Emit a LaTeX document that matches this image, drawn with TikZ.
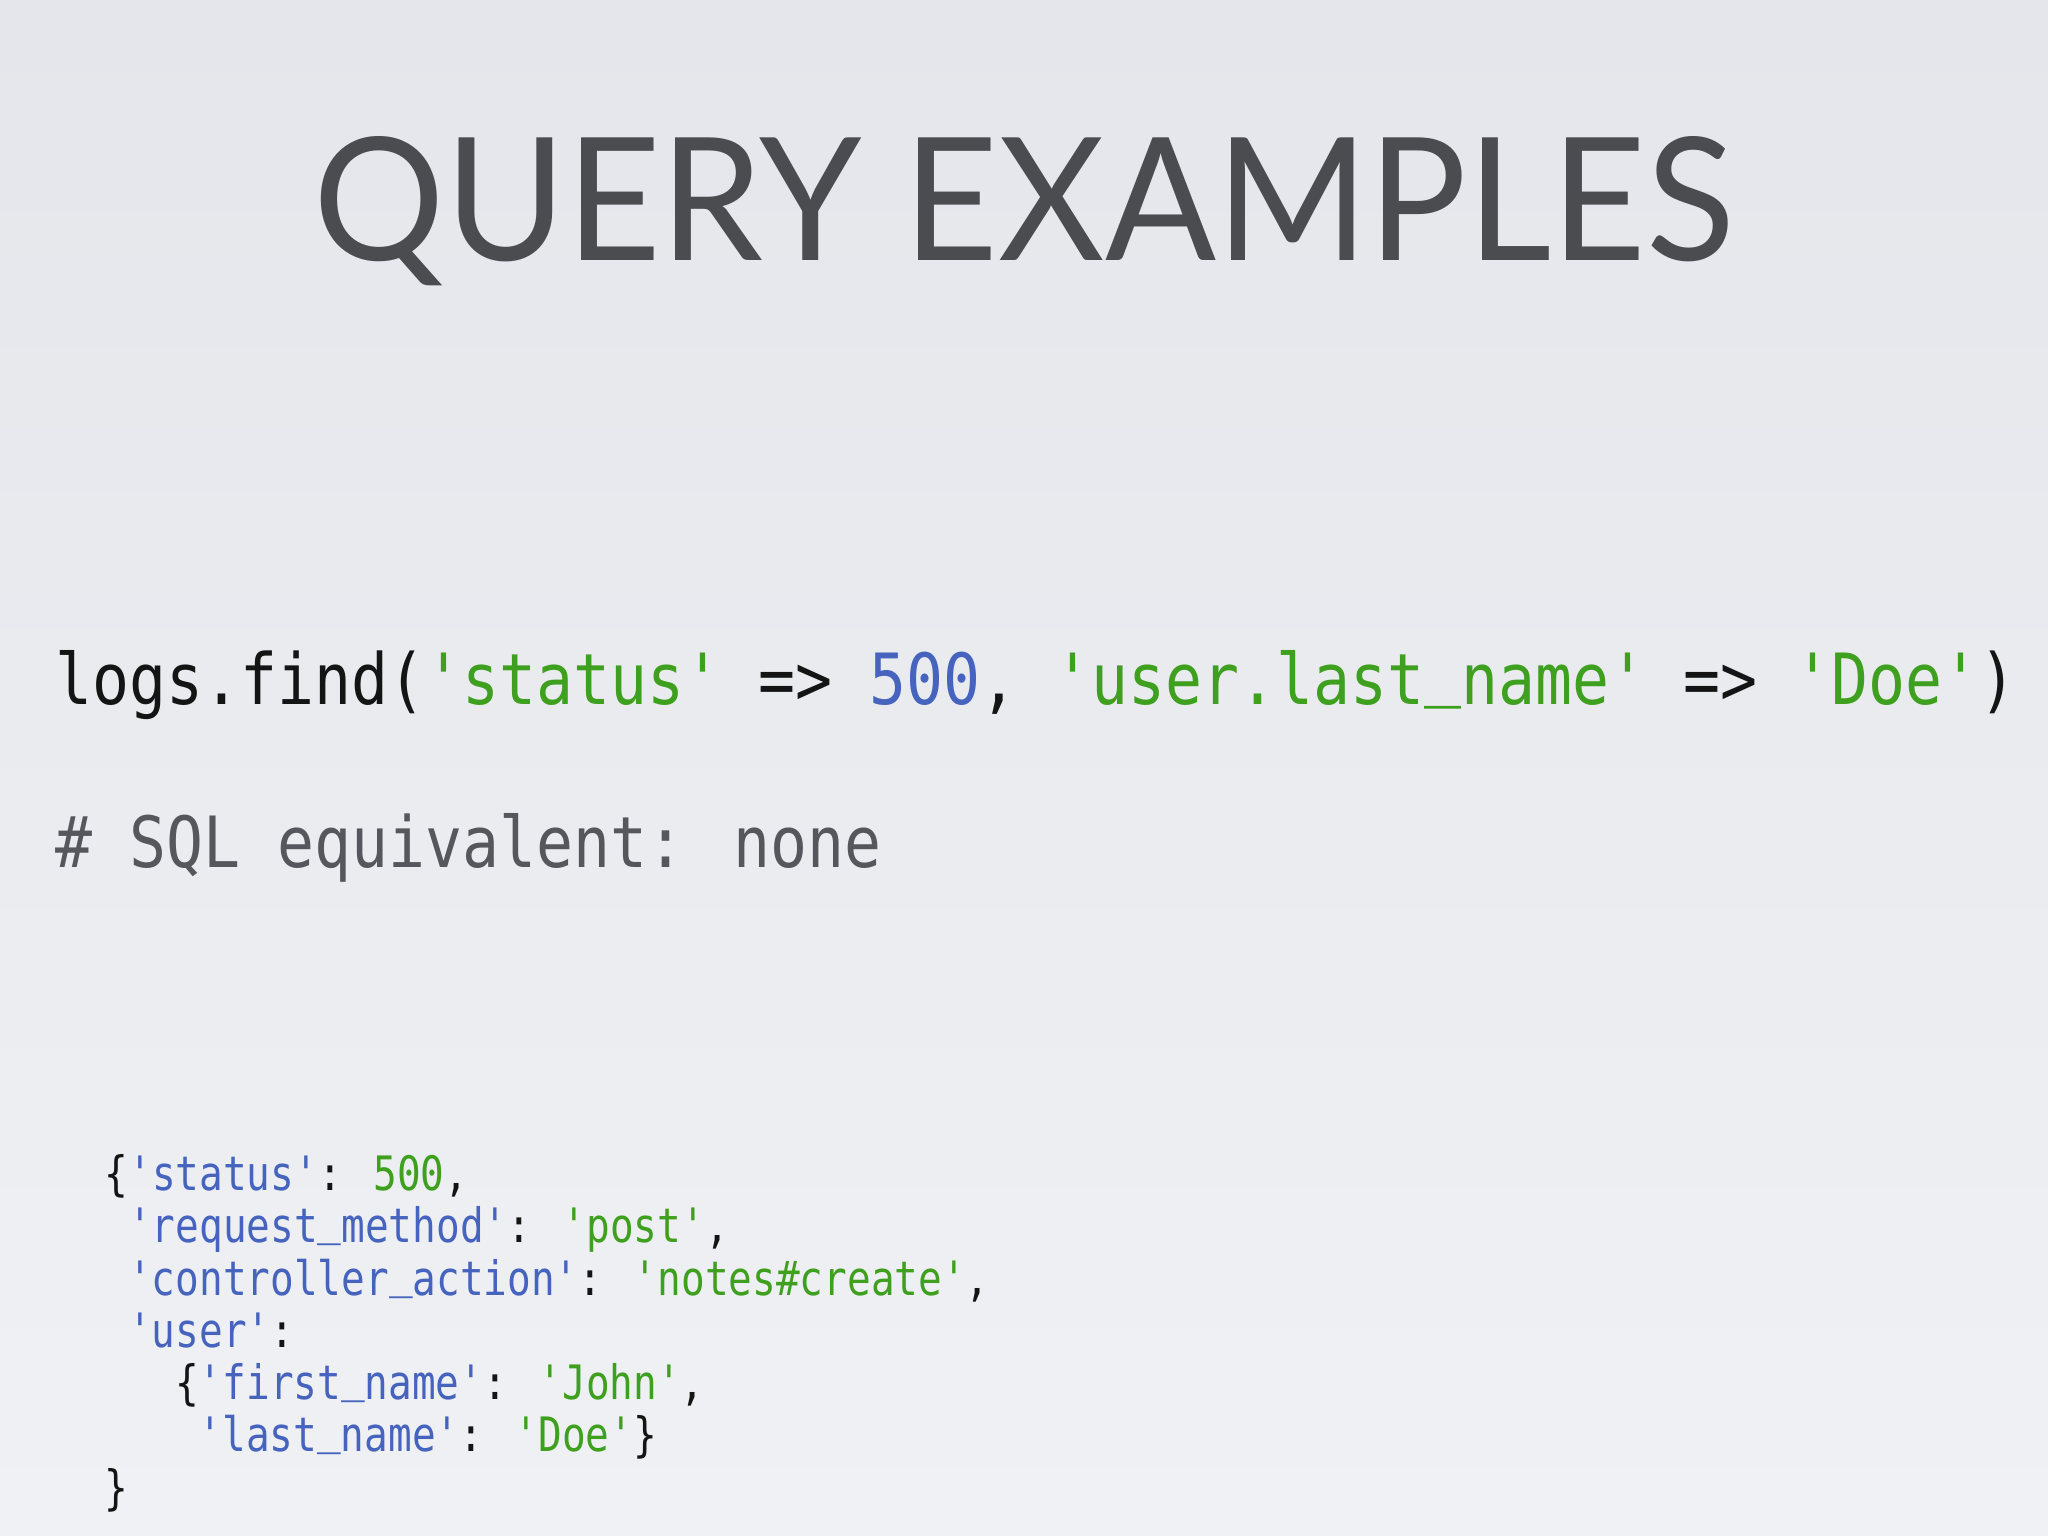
\documentclass[tikz,border=0pt]{standalone}
\usepackage{fontspec}
\usepackage{graphicx}
\newfontfamily\titlefont{Lato}
\newfontfamily\mainmono[FakeStretch=0.87]{DejaVu Sans Mono}
\newfontfamily\jsonmono[FakeStretch=0.83]{DejaVu Sans Mono}
\definecolor{bgtop}{RGB}{228,230,235}
\definecolor{bgbot}{RGB}{240,241,244}
\definecolor{titlec}{RGB}{74,76,80}
\definecolor{codeg}{RGB}{62,160,30}
\definecolor{codeb}{RGB}{70,100,190}
\definecolor{cmt}{RGB}{85,87,92}
\definecolor{blk}{RGB}{20,20,20}
\tikzset{
  mainline/.style={anchor=base west,inner sep=0pt,font=\mainmono\fontsize{20.1}{20.1}\selectfont,text=blk},
  jsonline/.style={anchor=base west,inner sep=0pt,font=\jsonmono\fontsize{13.5}{13.5}\selectfont,text=blk},
}
\newcommand{\G}[1]{\textcolor{codeg}{#1}}
\newcommand{\B}[1]{\textcolor{codeb}{#1}}
\newcommand{\us}{\raisebox{0.18em}{\_}}
\begin{document}
\begin{tikzpicture}[x=1cm,y=1cm]
\shade[top color=bgtop,bottom color=bgbot] (0,0) rectangle (20.48,15.36);
\useasboundingbox (0,0) rectangle (20.48,15.36);
\node[anchor=base west,inner sep=0pt,text=titlec] (title) at (3.13,12.75)
  {\resizebox{14.21cm}{1.24cm}{\titlefont QUERY EXAMPLES}};
\node[mainline] (q) at (0.55,8.31) {logs.find(\G{'status'} => \B{500}, \G{'user.last\us name'} => \G{'Doe'})};
\node[mainline,text=cmt] (c) at (0.55,6.68) {\# SQL equivalent: none};
\node[jsonline] (j1) at (1.04,3.45) {\{\B{'status'}: \G{500},};
\node[jsonline] (j2) at (1.275,2.93) {\B{'request\us method'}: \G{'post'},};
\node[jsonline] (j3) at (1.275,2.40) {\B{'controller\us action'}: \G{'notes\#create'},};
\node[jsonline] (j4) at (1.275,1.88) {\B{'user'}:};
\node[jsonline] (j5) at (1.745,1.36) {\{\B{'first\us name'}: \G{'John'},};
\node[jsonline] (j6) at (1.98,0.84) {\B{'last\us name'}: \G{'Doe'}\}};
\node[jsonline] (j7) at (1.04,0.31) {\}};
\end{tikzpicture}
\end{document}
